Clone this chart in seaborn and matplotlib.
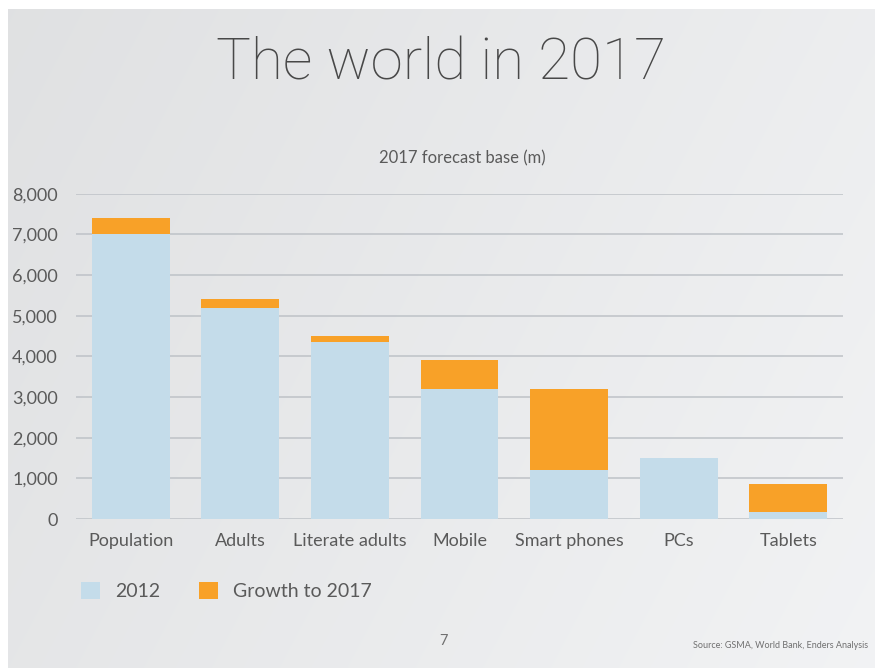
import numpy as np
import pandas as pd
import matplotlib
matplotlib.use("Agg")
import matplotlib.pyplot as plt
from matplotlib.patches import Patch
from matplotlib.ticker import FuncFormatter
import seaborn as sns

# 2017 forecast base, millions
categories = ["Population", "Adults", "Literate adults", "Mobile",
              "Smart phones", "PCs", "Tablets"]
base_2012 = [7000, 5200, 4350, 3200, 1200, 1500, 180]
growth_to_2017 = [400, 200, 150, 700, 2000, 0, 670]
y_ticks = [0, 1000, 2000, 3000, 4000, 5000, 6000, 7000, 8000]

df = pd.DataFrame({
    "category": categories,
    "base": base_2012,
    "growth": growth_to_2017,
})
df["total"] = df["base"] + df["growth"]

sns.set_theme(style="white")
plt.rcParams["font.family"] = ["Lato", "DejaVu Sans"]

BLUE = "#C4DCEA"
ORANGE = "#F8A128"
TEXT = "#5A5A5A"
GRID = "#BEC2C7"

W, H = 875, 668
fig = plt.figure(figsize=(W / 100, H / 100), dpi=100)
fig.patch.set_facecolor("white")

# slide background: soft grey gradient, lighter towards the right
bg_ax = fig.add_axes([8 / W, 0, 1 - 8 / W, 1 - 9 / H])
bg_ax.set_axis_off()
gx = np.linspace(0, 1, 400)
gy = np.linspace(0, 1, 300)
GX, GY = np.meshgrid(gx, gy)
shade = 0.886 + 0.05 * GX + 0.02 * GY
shade = np.clip(shade, 0, 1)
rgb = np.dstack([shade - 0.008, shade - 0.004, shade + 0.002])
bg_ax.imshow(np.clip(rgb, 0, 1), aspect="auto", extent=[0, 1, 0, 1],
             origin="upper", interpolation="bilinear")

ax = fig.add_axes([76 / W, 1 - 519 / H, (843 - 76) / W, (519 - 193.7) / H])
ax.set_facecolor("none")

# growth drawn as the full 2017 bar, with the 2012 base laid over it
sns.barplot(data=df, x="category", y="total", color=ORANGE, width=0.71,
            saturation=1, ax=ax, zorder=3, edgecolor="none", linewidth=0)
sns.barplot(data=df, x="category", y="base", color=BLUE, width=0.71,
            saturation=1, ax=ax, zorder=4, edgecolor="none", linewidth=0)

ax.set_xlim(-0.5, len(categories) - 0.5)
ax.set_ylim(0, 8000)
ax.set_yticks(y_ticks)
ax.yaxis.set_major_formatter(FuncFormatter(lambda v, p: f"{int(v):,}"))
for yv in y_ticks:
    ax.axhline(yv, color=GRID, lw=1.1, zorder=1)
ax.set_xlabel("")
ax.set_ylabel("")
for s in ax.spines.values():
    s.set_visible(False)
ax.tick_params(axis="both", length=0, colors=TEXT)
ax.tick_params(axis="y", labelsize=13, pad=13)
ax.tick_params(axis="x", labelsize=13, pad=10)

fig.text(441 / W, 1 - 80 / H, "The world in 2017", ha="center",
         va="baseline", fontsize=42, color="#484848", fontweight="light",
         family=["Roboto", "DejaVu Sans"])
fig.text(462 / W, 1 - 163 / H, "2017 forecast base (m)", ha="center",
         va="baseline", fontsize=12, color=TEXT)

handles = [Patch(facecolor=BLUE, edgecolor="none", label="2012"),
           Patch(facecolor=ORANGE, edgecolor="none", label="Growth to 2017")]
leg = fig.legend(handles=handles, loc="center left",
                 bbox_to_anchor=(81 / W, 1 - 591 / H), ncol=2, frameon=False,
                 borderpad=0, borderaxespad=0,
                 handlelength=1.0, handleheight=1.0, handletextpad=0.75,
                 columnspacing=2.0, fontsize=14)
for t in leg.get_texts():
    t.set_color(TEXT)

fig.text(444 / W, 1 - 641 / H, "7", ha="center", va="center",
         fontsize=10.5, color="#707070")
fig.text(868 / W, 1 - 646 / H, "Source: GSMA, World Bank, Enders Analysis",
         ha="right", va="center", fontsize=6.5, color="#707070")

fig.savefig("out.png", dpi=100)
